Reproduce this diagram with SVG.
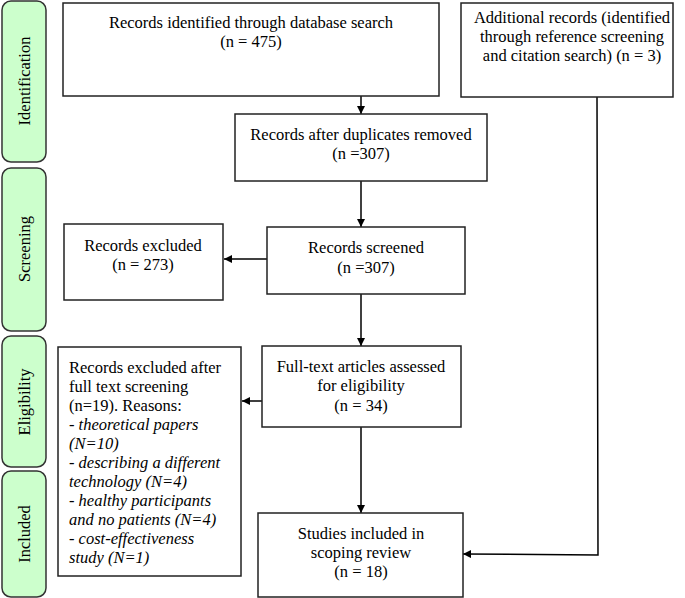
<svg xmlns="http://www.w3.org/2000/svg" width="685" height="598" viewBox="0 0 685 598" font-family="'Liberation Serif', 'Times New Roman', serif" font-size="16">
<defs>
<style>
.pill{fill:#ccffcc;stroke:#333;stroke-width:1.5}
.box{fill:#fff;stroke:#222;stroke-width:1.5}
text{font-family:'Liberation Serif','Times New Roman',serif;font-size:16.5px;fill:#000}
.c{text-anchor:middle}
.i{font-style:italic}
.ln{fill:none;stroke:#000;stroke-width:1.5}
</style>
<marker id="ah" viewBox="0 0 10 10" refX="10" refY="5" markerWidth="8" markerHeight="8" markerUnits="userSpaceOnUse" orient="auto">
<path d="M0,0 L10,5 L0,10 z" fill="#000"/>
</marker>
</defs>
<rect width="685" height="598" fill="#fff"/>
<g id="stage-identification"><rect class="pill" x="2" y="1" width="44" height="161" rx="9"/><text class="c" transform="translate(24,81) rotate(-90)" dy="0.35em">Identification</text></g>
<g id="stage-screening"><rect class="pill" x="2" y="168" width="44" height="163" rx="9"/><text class="c" transform="translate(24,249) rotate(-90)" dy="0.35em">Screening</text></g>
<g id="stage-eligibility"><rect class="pill" x="2" y="336" width="44" height="131" rx="9"/><text class="c" transform="translate(24,402) rotate(-90)" dy="0.35em">Eligibility</text></g>
<g id="stage-included"><rect class="pill" x="2" y="471" width="44" height="126" rx="9"/><text class="c" transform="translate(24,534) rotate(-90)" dy="0.35em">Included</text></g>

<g id="connectors">
<line class="ln" x1="361" y1="96" x2="361" y2="114" marker-end="url(#ah)"/>
<line class="ln" x1="361" y1="181" x2="361" y2="227" marker-end="url(#ah)"/>
<line class="ln" x1="267" y1="259" x2="224" y2="259" marker-end="url(#ah)"/>
<line class="ln" x1="361" y1="294" x2="361" y2="346" marker-end="url(#ah)"/>
<line class="ln" x1="262" y1="401" x2="242" y2="401" marker-end="url(#ah)"/>
<line class="ln" x1="361" y1="427" x2="361" y2="513" marker-end="url(#ah)"/>
<polyline class="ln" points="597,97 598,555 463,554" marker-end="url(#ah)"/>
</g>

<g id="records-identified"><rect class="box" x="63" y="3" width="376" height="93"/><text class="c" x="251" y="28">Records identified through database search</text><text class="c" x="251" y="47">(n = 475)</text></g>
<g id="additional-records"><rect class="box" x="461" y="3" width="212" height="94"/><text class="c" x="572" y="23">Additional records (identified</text><text class="c" x="572" y="42">through reference screening</text><text class="c" x="572" y="61">and citation search) (n = 3)</text></g>
<g id="after-duplicates"><rect class="box" x="235" y="114" width="252" height="67"/><text class="c" x="361" y="140">Records after duplicates removed</text><text class="c" x="361" y="159">(n =307)</text></g>
<g id="records-screened"><rect class="box" x="267" y="227" width="198" height="67"/><text class="c" x="366" y="253">Records screened</text><text class="c" x="366" y="273">(n =307)</text></g>
<g id="records-excluded"><rect class="box" x="64" y="224" width="159" height="76"/><text class="c" x="143" y="251">Records excluded</text><text class="c" x="143" y="270">(n = 273)</text></g>
<g id="full-text"><rect class="box" x="262" y="346" width="199" height="81"/><text class="c" x="361" y="372">Full-text articles assessed</text><text class="c" x="361" y="391">for eligibility</text><text class="c" x="361" y="411">(n = 34)</text></g>
<g id="excluded-full-text"><rect class="box" x="58" y="347" width="183" height="229"/>
<text x="69" y="373">Records excluded after</text>
<text x="69" y="392">full text screening</text>
<text x="69" y="411">(n=19). Reasons:</text>
<text class="i" x="69" y="430">- theoretical papers</text>
<text class="i" x="69" y="449">(N=10)</text>
<text class="i" x="69" y="468">- describing a different</text>
<text class="i" x="69" y="487">technology (N=4)</text>
<text class="i" x="69" y="506">- healthy participants</text>
<text class="i" x="69" y="525">and no patients (N=4)</text>
<text class="i" x="69" y="544">- cost-effectiveness</text>
<text class="i" x="69" y="563">study (N=1)</text>
</g>
<g id="studies-included"><rect class="box" x="258" y="513" width="205" height="84"/><text class="c" x="361" y="539">Studies included in</text><text class="c" x="361" y="558">scoping review</text><text class="c" x="361" y="577">(n = 18)</text></g>
</svg>
